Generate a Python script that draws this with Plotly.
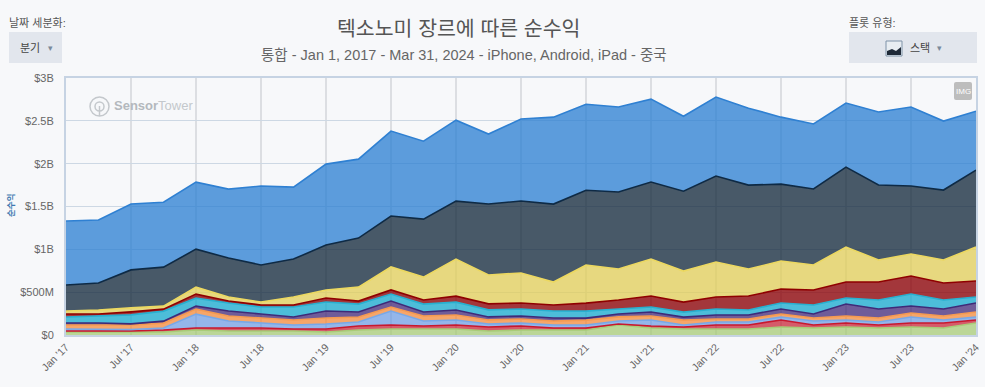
import plotly.graph_objects as go

years = range(17, 25)
quarters = []
for yy in years:
    for m in ["Jan", "Apr", "Jul", "Oct"]:
        quarters.append(f"{m} '{yy}")
quarters = quarters[:29]
tick_labels = quarters[::2]

green = [35,35,35,35,58,47,47,47,35,58,70,70,70,47,58,58,58,117,82,70,70,70,93,82,93,82,93,82,140]
red = [12,12,12,23,23,35,35,23,35,47,47,35,47,47,47,23,23,12,23,23,47,47,82,35,47,35,47,58,35]
light_blue = [23,23,18,23,163,82,58,47,58,47,163,58,58,35,35,35,35,35,70,23,35,35,35,47,35,35,70,35,35]
orange = [47,47,53,58,58,58,58,58,70,58,47,58,58,47,47,47,58,47,47,58,35,35,35,35,47,47,47,47,58]
purple = [23,23,12,23,35,58,47,35,82,58,70,47,58,35,35,35,23,35,47,35,47,47,58,47,140,105,82,82,105]
cyan = [70,82,105,117,93,93,82,117,105,93,82,93,93,82,82,82,82,58,58,58,70,58,70,105,70,105,140,105,70]
dark_red = [35,23,35,23,47,23,23,23,47,35,47,47,70,70,70,70,93,105,128,117,140,163,163,175,187,210,210,198,187]
yellow = [35,47,47,35,82,47,35,93,93,163,268,268,432,338,350,268,443,362,432,362,408,315,327,292,408,257,257,268,397]
slate = [303,315,443,455,443,455,432,443,525,572,595,677,677,828,840,910,875,898,898,933,1003,980,898,887,933,875,793,817,898]
blue = [747,735,770,758,782,805,922,840,945,922,992,910,945,817,957,1015,1003,992,968,875,922,898,782,758,747,852,922,805,688]

layers = [
    (green, "rgba(163,201,112,0.72)", "#a8cc78"),
    (red, "rgba(200,30,50,0.72)", "#c8182e"),
    (light_blue, "rgba(100,150,225,0.68)", "#78a8e8"),
    (orange, "rgba(245,135,50,0.72)", "#f59a50"),
    (purple, "rgba(65,40,120,0.75)", "#3f2a78"),
    (cyan, "rgba(20,170,205,0.75)", "#28b0d0"),
    (dark_red, "rgba(140,0,5,0.78)", "#8f0000"),
    (yellow, "rgba(225,205,85,0.75)", "#ecd860"),
    (slate, "rgba(20,40,60,0.77)", "#0e2a45"),
    (blue, "rgba(40,125,210,0.75)", "#2f80d2"),
]

FONT = "Liberation Sans, Noto Sans CJK KR, sans-serif"
BG = "#f7f8fa"
PANEL = "#e2e6ed"
W, H = 985, 387
L, R, T, B = 66, 976, 78, 335

def px(x):
    return (x - L) / (R - L)

def py(y):
    return (B - y) / (B - T)

fig = go.Figure()
for values, fill, line in layers:
    fig.add_trace(go.Scatter(
        x=quarters, y=[v * 1e6 for v in values], mode="lines", stackgroup="one",
        fillcolor=fill, line=dict(color=line, width=1.6), hoverinfo="skip", showlegend=False,
    ))

def label(text, x, y, size, color="#555", anchor="center", **kw):
    return dict(text=text, x=px(x), y=py(y), xref="paper", yref="paper", showarrow=False,
                xanchor=anchor, yanchor="middle", font=dict(size=size, color=color, family=FONT), **kw)

annotations = [
    label("텍소노미 장르에 따른 순수익", 458, 28, 20.5, "#555"),
    label("통합 - Jan 1, 2017 - Mar 31, 2024 - iPhone, Android, iPad - 중국", 464, 55, 14.5, "#666"),
    label("날짜 세분화:", 7, 23, 11, "#555", "left"),
    label("분기", 30, 48, 11, "#444"),
    label("▾", 50, 48, 9, "#7a8a9a"),
    label("플롯 유형:", 847, 23, 11, "#555", "left"),
    label("스택", 920, 48, 11, "#444"),
    label("▾", 939, 48, 9, "#7a8a9a"),
    label("<b>순수익</b>", 11, 206, 8.5, "#3f78b0", textangle=-90),
    label("<b>Sensor</b><span style='color:#c4c8cc'>Tower</span>", 112, 106, 13, "#b4b8bd", "left"),
    label("IMG", 963, 91, 8, "#ffffff"),
]

def rect(x0, y0, x1, y1, fill, line=None, width=0, layer="above"):
    return dict(type="rect", xref="paper", yref="paper", x0=px(x0), x1=px(x1), y0=py(y0), y1=py(y1),
                fillcolor=fill, line=dict(color=line or fill, width=width), layer=layer)

shapes = [
    rect(9, 32, 62, 63, PANEL),
    rect(849, 32, 977, 63, PANEL),
    rect(886, 41, 902, 56, "#e8edf2", "#7f93a8", 1),
    dict(type="path", xref="paper", yref="paper", layer="above",
         path=f"M {px(887)} {py(55)} L {px(887)} {py(51)} L {px(892)} {py(49)} L {px(896)} {py(51)} L {px(901)} {py(47)} L {px(901)} {py(55)} Z",
         fillcolor="#1f2a38", line=dict(width=0)),
    dict(type="circle", xref="paper", yref="paper", layer="above", x0=px(90), x1=px(109), y0=py(97), y1=py(116),
         fillcolor="rgba(0,0,0,0)", line=dict(color="#c4c8cc", width=1.5)),
    dict(type="circle", xref="paper", yref="paper", layer="above", x0=px(95), x1=px(104), y0=py(102), y1=py(111),
         fillcolor="rgba(0,0,0,0)", line=dict(color="#c4c8cc", width=1.5)),
    dict(type="line", xref="paper", yref="paper", layer="above", x0=px(99.5), x1=px(99.5), y0=py(106), y1=py(116),
         line=dict(color="#c4c8cc", width=1.5)),
    dict(type="path", xref="paper", yref="paper", layer="above",
         path=(f"M {px(956)} {py(82)} L {px(970)} {py(82)} Q {px(972)} {py(82)} {px(972)} {py(84)} "
               f"L {px(972)} {py(98)} Q {px(972)} {py(100)} {px(970)} {py(100)} L {px(956)} {py(100)} "
               f"Q {px(954)} {py(100)} {px(954)} {py(98)} L {px(954)} {py(84)} Q {px(954)} {py(82)} {px(956)} {py(82)} Z"),
         fillcolor="#bdbdbd", line=dict(width=0)),
]

fig.update_layout(
    width=W, height=H, autosize=False,
    margin=dict(l=L, r=W - R, t=T, b=H - B, pad=0, autoexpand=False),
    paper_bgcolor=BG, plot_bgcolor=BG,
    font=dict(family=FONT, size=11, color="#666"),
    annotations=annotations, shapes=shapes,
    xaxis=dict(type="category", categoryorder="array", categoryarray=quarters, range=[0, 28],
               tickmode="array", tickvals=tick_labels, ticktext=tick_labels, tickangle=-45,
               showgrid=True, gridcolor="#dcdee2", gridwidth=1.5, ticks="", zeroline=False,
               showline=True, linecolor="#c6d3e3", linewidth=2, mirror=True,
               tickfont=dict(size=10.5, color="#666")),
    yaxis=dict(range=[0, 3e9], tickmode="array", tickvals=[0, 5e8, 1e9, 1.5e9, 2e9, 2.5e9, 3e9],
               ticktext=["$0", "$500M", "$1B", "$1.5B", "$2B", "$2.5B", "$3B"],
               showgrid=True, gridcolor="#cdd8e4", gridwidth=1, ticks="", zeroline=False,
               showline=True, linecolor="#c6d3e3", linewidth=2, mirror=True,
               tickfont=dict(size=11, color="#666"), ticklabelstandoff=8),
)

fig.write_html("out.html", config={"displayModeBar": False},
               post_script=f"document.body.style.margin='0';document.body.style.background='{BG}';")
